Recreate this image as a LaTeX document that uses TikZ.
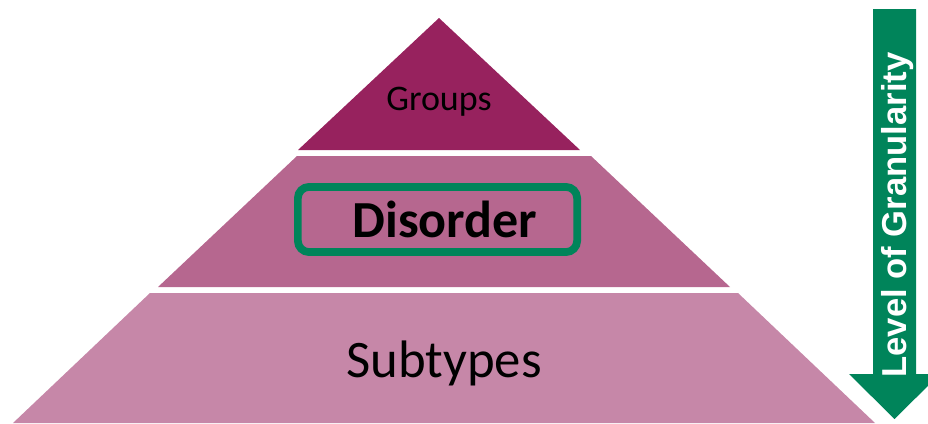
\documentclass[tikz,border=0pt]{standalone}
\usepackage{fontspec}
\setmainfont{Carlito}
\newfontfamily\arrowfont{Liberation Sans}
\definecolor{tiertop}{HTML}{97225E}
\definecolor{tiermid}{HTML}{B6678F}
\definecolor{tierlow}{HTML}{C687A8}
\definecolor{granulgreen}{HTML}{00845A}

\begin{document}
\begin{tikzpicture}[x=0.025cm,y=-0.025cm,
  tiertext/.style={inner sep=0pt,anchor=base,text=black}]
  \useasboundingbox (0,0) rectangle (928,423);
  % pyramid tiers
  \fill[tiertop] (439,18) -- (580,150) -- (298,150) -- cycle;
  \fill[tiermid] (297,156) -- (591,156) -- (730,287) -- (158,287) -- cycle;
  \fill[tierlow] (150,293) -- (738,293) -- (875,423) -- (13,423) -- cycle;
  \node[tiertext,font=\fontsize{25.6}{30}\selectfont] (groups) at (439,110) {Groups};
  \node[draw=granulgreen,line width=5.5pt,rounded corners=8pt,minimum width=6.98cm,minimum height=1.63cm] (disorderbox) at (437.5,219.5) {};
  \node[tiertext,font=\bfseries\fontsize{37}{44}\selectfont] (disorder) at (445,237) {Disorder};
  \node[tiertext,font=\fontsize{37.5}{44}\selectfont] (subtypes) at (444,377) {Subtypes};
  % granularity arrow
  \fill[granulgreen] (873,9) -- (916,9) -- (916,374) -- (940,374) -- (894.5,419) -- (849,374) -- (873,374) -- cycle;
  \node[tiertext,text=white,rotate=90,font=\arrowfont\bfseries\fontsize{24.6}{30}\selectfont] (granularity) at (906,215) {Level of Granularity};
\end{tikzpicture}
\end{document}
